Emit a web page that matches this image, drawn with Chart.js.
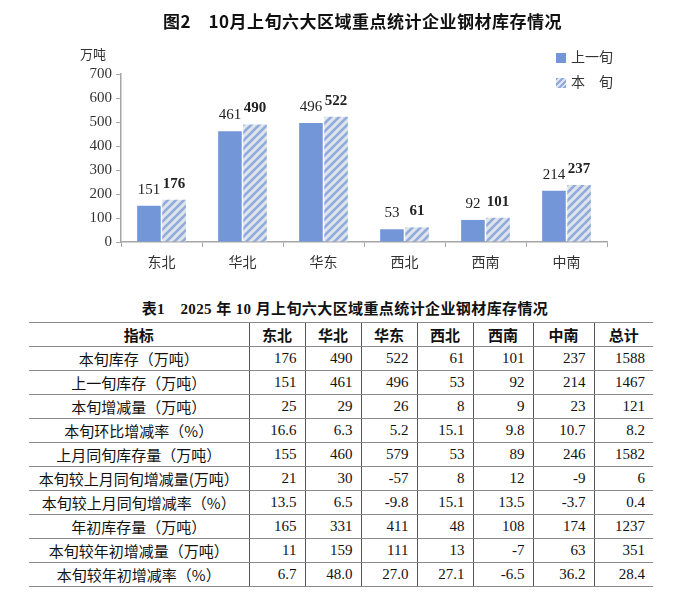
<!DOCTYPE html>
<html lang="zh">
<head>
  <meta charset="UTF-8" />
  <title>10月上旬六大区域重点统计企业钢材库存情况</title>
  <style>
    body {
      margin: 0;
      padding: 0;
      background: #fff;
      font-family: "Liberation Serif", "Noto Sans CJK SC", serif;
      color: #111;
    }
    .page {
      position: relative;
      width: 683px;
      height: 607px;
      overflow: hidden;
    }
    .chartTitle {
      position: absolute;
      left: 0;
      width: 725px;
      top: 8px;
      text-align: center;
      font-family: "Noto Sans CJK SC", sans-serif;
      font-weight: bold;
      font-size: 17px;
      letter-spacing: 0.5px;
    }
    .unit {
      position: absolute;
      left: 80px;
      top: 44px;
      font-family: "Noto Sans CJK SC", sans-serif;
      font-size: 13px;
      color: #333;
    }
    .legend {
      position: absolute;
      left: 556px;
      top: 45px;
      font-family: "Noto Sans CJK SC", sans-serif;
      font-size: 14px;
      color: #333;
    }
    .legend div {
      height: 25px;
      line-height: 22px;
    }
    .legend span.box {
      display: inline-block;
      width: 10px;
      height: 10px;
      margin-right: 5px;
      vertical-align: -1px;
    }
    #chartWrap {
      position: absolute;
      left: 0;
      top: 0;
      width: 683px;
      height: 290px;
    }
    .tableTitle {
      position: absolute;
      left: 0;
      width: 690px;
      top: 297px;
      text-align: center;
      font-weight: bold;
      font-size: 15px;
      letter-spacing: 0.4px;
    }
    table {
      position: absolute;
      left: 29px;
      top: 322px;
      width: 624px;
      border-collapse: collapse;
      table-layout: fixed;
      font-size: 15px;
    }
    td, th {
      height: 23px;
      padding: 0 8px 0 0;
      border-top: 1.5px solid #8a8a8a;
      border-bottom: 1.5px solid #8a8a8a;
      border-left: 1px solid #555;
      text-align: right;
      white-space: nowrap;
    }
    th {
      text-align: center;
      padding: 0;
      font-family: "Noto Sans CJK SC", sans-serif;
      font-weight: bold;
    }
    td.name {
      text-align: center;
      padding: 0;
      font-family: "Noto Sans CJK SC", sans-serif;
      font-size: 15px;
    }
    tr > :first-child {
      border-left: none;
    }
  </style>
  <script src="https://cdn.jsdelivr.net/npm/chart.js"></script>
</head>
<body>
  <div class="page">
    <div id="chartWrap"><canvas id="stockChart" width="683" height="290"></canvas></div>
    <div class="chartTitle">图2　10月上旬六大区域重点统计企业钢材库存情况</div>
    <div class="unit">万吨</div>
    <div class="legend">
      <div><span class="box" style="background:#7396d9"></span>上一旬</div>
      <div><span class="box" style="background:repeating-linear-gradient(135deg,#8faadc 0 2px,#dfe3ea 2px 4px)"></span>本　旬</div>
    </div>

    <div class="tableTitle">表1　2025 年 10 月上旬六大区域重点统计企业钢材库存情况</div>
    <table id="stockTable"></table>
  </div>

  <script>
    // chart data
    const regions = ["东北", "华北", "华东", "西北", "西南", "中南"];
    const lastPeriod = [151, 461, 496, 53, 92, 214];
    const thisPeriod = [176, 490, 522, 61, 101, 237];
    const yTicks = [0, 100, 200, 300, 400, 500, 600, 700];

    // table data
    const tableHeader = ["指标", "东北", "华北", "华东", "西北", "西南", "中南", "总计"];
    const rowNames = [
      "本旬库存（万吨）",
      "上一旬库存（万吨）",
      "本旬增减量（万吨）",
      "本旬环比增减率（%）",
      "上月同旬库存量（万吨）",
      "本旬较上月同旬增减量(万吨）",
      "本旬较上月同旬增减率（%）",
      "年初库存量（万吨）",
      "本旬较年初增减量（万吨）",
      "本旬较年初增减率（%）"
    ];
    const rowStock = ["176", "490", "522", "61", "101", "237", "1588"];
    const rowLastStock = ["151", "461", "496", "53", "92", "214", "1467"];
    const rowChange = ["25", "29", "26", "8", "9", "23", "121"];
    const rowChangeRate = ["16.6", "6.3", "5.2", "15.1", "9.8", "10.7", "8.2"];
    const rowLastMonth = ["155", "460", "579", "53", "89", "246", "1582"];
    const rowMonthChange = ["21", "30", "-57", "8", "12", "-9", "6"];
    const rowMonthRate = ["13.5", "6.5", "-9.8", "15.1", "13.5", "-3.7", "0.4"];
    const rowYearStart = ["165", "331", "411", "48", "108", "174", "1237"];
    const rowYearChange = ["11", "159", "111", "13", "-7", "63", "351"];
    const rowYearRate = ["6.7", "48.0", "27.0", "27.1", "-6.5", "36.2", "28.4"];
    const tableRows = [rowStock, rowLastStock, rowChange, rowChangeRate, rowLastMonth,
      rowMonthChange, rowMonthRate, rowYearStart, rowYearChange, rowYearRate];

    // build table
    const table = document.getElementById("stockTable");
    const widths = [220, 56, 56, 56, 56, 60, 61, 59];
    let html = "<colgroup>" + widths.map(w => `<col style="width:${w}px">`).join("") + "</colgroup>";
    html += "<tr>" + tableHeader.map(h => `<th>${h}</th>`).join("") + "</tr>";
    tableRows.forEach((row, i) => {
      html += `<tr><td class="name">${rowNames[i]}</td>` + row.map(v => `<td>${v}</td>`).join("") + "</tr>";
    });
    table.innerHTML = html;

    // hatch pattern for 本旬
    function makeHatch() {
      const c = document.createElement("canvas");
      c.width = 8;
      c.height = 8;
      const g = c.getContext("2d");
      g.fillStyle = "#dfe3ea";
      g.fillRect(0, 0, 8, 8);
      g.strokeStyle = "#8faadc";
      g.lineWidth = 2.6;
      g.beginPath();
      g.moveTo(0, 8); g.lineTo(8, 0);
      g.moveTo(-2, 2); g.lineTo(2, -2);
      g.moveTo(6, 10); g.lineTo(10, 6);
      g.stroke();
      return g.createPattern(c, "repeat");
    }

    const valueLabels = {
      id: "valueLabels",
      afterDatasetsDraw(chart) {
        const ctx = chart.ctx;
        ctx.save();
        ctx.textAlign = "center";
        ctx.textBaseline = "middle";
        ctx.fillStyle = "#222";
        chart.data.datasets.forEach((ds, di) => {
          const meta = chart.getDatasetMeta(di);
          ctx.font = (di === 1 ? "bold " : "") + "15px 'Liberation Serif'";
          meta.data.forEach((bar, i) => {
            ctx.fillText(ds.data[i], bar.x, bar.y - 16);
          });
        });
        ctx.restore();
      }
    };

    const ctx = document.getElementById("stockChart").getContext("2d");
    new Chart(ctx, {
      type: "bar",
      data: {
        labels: regions,
        datasets: [
          {
            label: "上一旬",
            data: lastPeriod,
            backgroundColor: "#7396d9",
            borderWidth: 0
          },
          {
            label: "本　旬",
            data: thisPeriod,
            backgroundColor: makeHatch(),
            borderWidth: 0
          }
        ]
      },
      options: {
        responsive: false,
        animation: false,
        layout: {
          padding: { left: 0, right: 76, top: 74, bottom: 0 }
        },
        datasets: {
          bar: {
            categoryPercentage: 0.62,
            barPercentage: 0.94
          }
        },
        plugins: {
          legend: { display: false },
          tooltip: { enabled: false }
        },
        scales: {
          x: {
            afterFit: s => { s.height = 48; },
            grid: {
              drawOnChartArea: false,
              drawTicks: true,
              tickLength: 5,
              color: "#a6a6a6"
            },
            border: { color: "#a6a6a6", width: 1.5 },
            ticks: {
              color: "#333",
              padding: 6,
              font: { family: "'Noto Sans CJK SC'", size: 14 }
            }
          },
          y: {
            min: 0,
            max: 700,
            afterFit: s => { s.width = 121; },
            afterBuildTicks: s => { s.ticks = yTicks.map(v => ({ value: v })); },
            grid: {
              drawOnChartArea: false,
              drawTicks: true,
              tickLength: 5,
              color: "#a6a6a6"
            },
            border: { color: "#a6a6a6", width: 1.5 },
            ticks: {
              color: "#333",
              padding: 4,
              font: { family: "'Liberation Serif'", size: 15 }
            }
          }
        }
      },
      plugins: [valueLabels]
    });
  </script>
</body>
</html>
